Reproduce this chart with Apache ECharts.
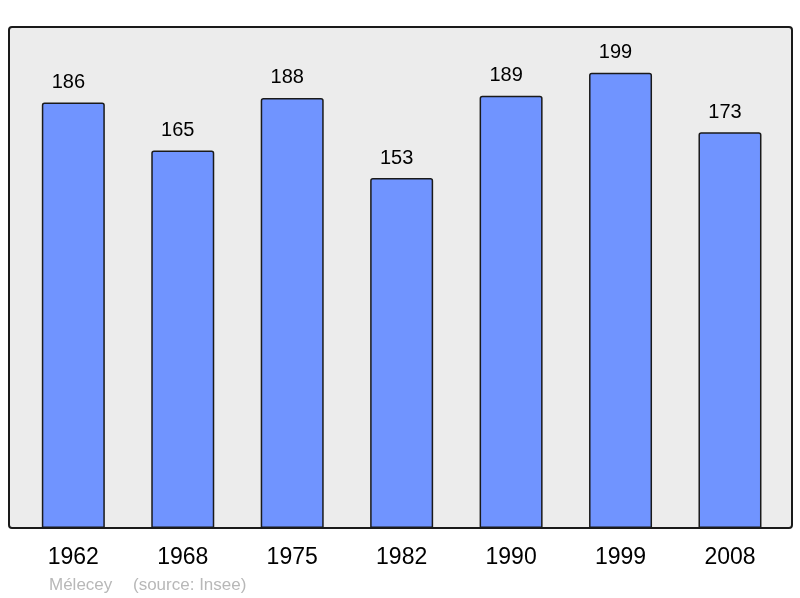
<!DOCTYPE html>
<html>
<head>
<meta charset="UTF-8">
<title>Mélecey</title>
<script src="https://cdn.jsdelivr.net/npm/echarts@6/dist/echarts.min.js"></script>
<style>
	html, body { margin: 0; padding: 0; background: #fff; }
	#chart { width: 800px; height: 598px; }
</style>
</head>
<body>
<div id="chart"></div>
<script type="text/javascript">
	var years = ['1962', '1968', '1975', '1982', '1990', '1999', '2008'];
	var population = [186, 165, 188, 153, 189, 199, 173];
	var townName = 'Mélecey';
	var sourceText = '(source: Insee)';

	var myChart = echarts.init(document.getElementById('chart'));
	var font = 'Liberation Sans, Arial, sans-serif';

	var option = {
		animation: false,
		grid: { left: 18.6, right: 15.3, top: 27, bottom: 70 },
		xAxis: {
			type: 'category',
			data: years,
			axisLine: { show: false },
			axisTick: { show: false },
			axisLabel: { fontSize: 23, color: '#000', fontFamily: font, margin: 18 }
		},
		yAxis: {
			type: 'value',
			min: 0,
			max: 219,
			show: false,
			splitLine: { show: false }
		},
		graphic: [
			{ // background box
				type: 'rect', z: -10,
				shape: { x: 9, y: 27, width: 783, height: 501, r: 3 },
				style: { fill: '#ececec', stroke: null }
			},
			{ // frame drawn over bars
				type: 'rect', z: 100,
				shape: { x: 9, y: 27, width: 783, height: 501, r: 3 },
				style: { fill: null, stroke: '#1a1a1a', lineWidth: 2 }
			},
			{
				type: 'text', left: 49, top: 577, z: 100,
				style: { text: townName, fill: '#b8b8b8', fontSize: 17, fontFamily: font }
			},
			{
				type: 'text', left: 133, top: 577, z: 100,
				style: { text: sourceText, fill: '#b8b8b8', fontSize: 17, fontFamily: font }
			}
		],
		series: [{
			type: 'bar',
			data: population,
			barWidth: 63,
			itemStyle: {
				color: '#7094ff',
				borderColor: '#1a1a1a',
				borderWidth: 1.5,
				borderRadius: [2, 2, 0, 0]
			},
			label: {
				show: true,
				position: 'top',
				distance: 10,
				offset: [-5, 0],
				fontSize: 20,
				color: '#000',
				fontFamily: font
			}
		}]
	};
	myChart.setOption(option);
</script>
</body>
</html>
